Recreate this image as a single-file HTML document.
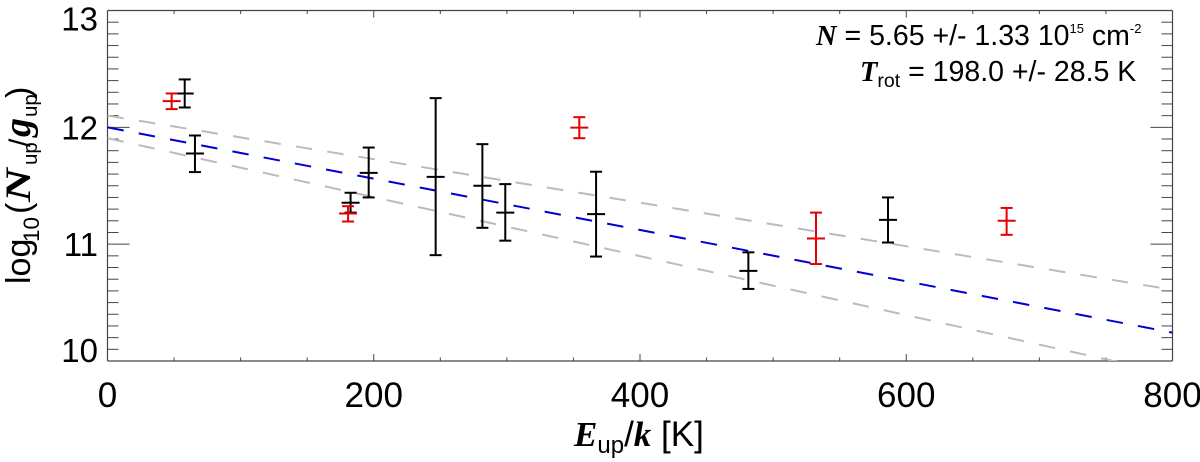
<!DOCTYPE html>
<html>
<head>
<meta charset="utf-8">
<title>Rotational diagram</title>
<style>
html,body{margin:0;padding:0;background:#fff;width:1200px;height:462px;overflow:hidden}
svg{display:block}
text{font-family:"Liberation Sans",sans-serif;fill:#000}
.sym{font-family:"Liberation Serif",serif;font-weight:bold;font-style:italic}
</style>
</head>
<body>
<svg id="chart" xmlns="http://www.w3.org/2000/svg" width="1200" height="462" viewBox="0 0 1200 462">
  <rect x="0" y="0" width="1200" height="462" fill="#fff"/>
  <defs><clipPath id="plot-clip"><rect x="107.5" y="10.5" width="1065" height="350.5"/></clipPath></defs>
  <g id="ticks"></g>
  <g id="lines" clip-path="url(#plot-clip)"></g>
  <g id="points"></g>
  <g id="labels"></g>

  <g transform="translate(30,283) rotate(-90)" font-size="34">
    <text x="-1" y="0">log</text>
    <text x="41" y="9" font-size="22.5">10</text>
    <text x="69" y="0">(</text>
    <text class="sym" transform="translate(81,0) scale(1.3,1)" font-size="36">N</text>
    <text x="118" y="7" font-size="20.5">up</text>
    <text x="136" y="0" font-size="30">/</text>
    <text class="sym" x="146" y="0" font-size="38">g</text>
    <text x="166" y="7" font-size="20.5">up</text>
    <text x="185" y="0">)</text>
  </g>

  <text x="574" y="446" font-size="35"><tspan class="sym">E</tspan><tspan font-size="24" dy="7">up</tspan><tspan dy="-7">/</tspan><tspan class="sym">k</tspan> [K]</text>

  <text x="816" y="45" font-size="28.5"><tspan class="sym">N</tspan> = 5.65 +/- 1.33 10<tspan font-size="13" dy="-12">15</tspan><tspan dy="12"> cm</tspan><tspan font-size="13" dy="-12">-2</tspan></text>

  <text x="860" y="81" font-size="28.5"><tspan class="sym">T</tspan><tspan font-size="19.5" dy="6">rot</tspan><tspan dy="-6"> = 198.0 +/- 28.5 K</tspan></text>
</svg>
<script>
// X axis and Y axis ranges and tick labels
const xDomain = [0, 800];
const yDomain = [10, 13];
const xTickLabels = [0, 200, 400, 600, 800];
const yTickLabels = [10, 11, 12, 13];

// Black points: energy, value, upper error bound, lower error bound
const blackE = [58, 65.7, 182.6, 196.2, 246.5, 281.6, 298.8, 367, 481.4, 586.3];
const blackV = [12.29, 11.776, 11.354, 11.61, 11.576, 11.50, 11.27, 11.257, 10.771, 11.208];
const blackHi = [12.41, 11.93, 11.44, 11.827, 12.25, 11.856, 11.514, 11.62, 10.93, 11.40];
const blackLo = [12.17, 11.617, 11.27, 11.40, 10.906, 11.14, 11.03, 10.894, 10.617, 11.014];

// Red points: energy, value, upper error bound, lower error bound
const redE = [48.2, 180.7, 354.4, 532.2, 675.4];
const redV = [12.224, 11.262, 11.998, 11.048, 11.2];
const redHi = [12.29, 11.325, 12.087, 11.27, 11.31];
const redLo = [12.156, 11.194, 11.907, 10.83, 11.08];

// Fit lines evaluated at the two ends of the energy range
const lineE = [0, 800];
const fitV = [12.0, 10.243];
const upperV = [12.10, 10.61];
const lowerV = [11.907, 9.888];

const NS = 'http://www.w3.org/2000/svg';
const PL = 107.5, PR = 1172.5, PT = 10.5, PB = 361;
function xs(v) { return PL + (v - xDomain[0]) / (xDomain[1] - xDomain[0]) * (PR - PL); }
function ys(v) { return PB - (v - yDomain[0]) / (yDomain[1] - yDomain[0]) * (PB - PT); }
function make(tag, attrs, parent) {
  const el = document.createElementNS(NS, tag);
  for (const k in attrs) el.setAttribute(k, attrs[k]);
  parent.appendChild(el);
  return el;
}

const tickG = document.getElementById('ticks');
const AXC = '#444';
function axisLine(x1, y1, x2, y2, w, name) {
  const l = make('line', { x1: x1, y1: y1, x2: x2, y2: y2, stroke: AXC, 'stroke-width': w }, tickG);
  
  
}
axisLine(PL, PT, PR, PT, 1.2, 'top-axis');
axisLine(PL, PB, PR, PB, 1.2, 'bottom-axis');
axisLine(PL, PT, PL, PB, 1.2, 'left-axis');
axisLine(PR, PT, PR, PB, 1.2, 'right-axis');

for (let k = xDomain[0] + 50; k < xDomain[1]; k += 50) {
  const len = k % 200 === 0 ? 7 : 3.5;
  axisLine(xs(k), PT, xs(k), PT + len, 1, 'x-tick-top');
  axisLine(xs(k), PB, xs(k), PB - len, 1, 'x-tick-bottom');
}
for (let i = 1; i < (yDomain[1] - yDomain[0]) * 10; i++) {
  const v = yDomain[0] + i / 10;
  const len = i % 10 === 0 ? 22 : 11;
  axisLine(PL, ys(v), PL + len, ys(v), 1, 'y-tick-left');
  axisLine(PR, ys(v), PR - len, ys(v), 1, 'y-tick-right');
}

const labelG = document.getElementById('labels');
xTickLabels.forEach(function (v) {
  const t = make('text', { x: xs(v), y: 407, 'font-size': 35, 'text-anchor': 'middle' }, labelG);
  
  
  t.textContent = v;
});
yTickLabels.forEach(function (v) {
  const off = v === yDomain[1] ? 20 : (v === yDomain[0] ? 1 : 12);
  const t = make('text', { x: 98, y: ys(v) + off, 'font-size': 33, 'text-anchor': 'end' }, labelG);
  
  
  t.textContent = v;
});

const lineG = document.getElementById('lines');
function fitLine(vals, color, name) {
  const l = make('line', {
    x1: xs(lineE[0]), y1: ys(vals[0]), x2: xs(lineE[1]), y2: ys(vals[1]),
    stroke: color, 'stroke-width': 2, 'stroke-dasharray': '16.5 15.3'
  }, lineG);
  
  
}
fitLine(upperV, '#bbbbbb', 'upper-bound-line');
fitLine(lowerV, '#bbbbbb', 'lower-bound-line');
fitLine(fitV, '#0000d0', 'best-fit-line');

const pointG = document.getElementById('points');
function drawPoints(es, vs, hi, lo, color, name) {
  es.forEach(function (e, i) {
    const g = make('g', { stroke: color, 'stroke-width': 2, fill: 'none' }, pointG);
    
    
    const x = xs(e);
    make('line', { x1: x, y1: ys(hi[i]), x2: x, y2: ys(lo[i]) }, g);
    make('line', { x1: x - 6, y1: ys(hi[i]), x2: x + 6, y2: ys(hi[i]) }, g);
    make('line', { x1: x - 6, y1: ys(lo[i]), x2: x + 6, y2: ys(lo[i]) }, g);
    make('line', { x1: x - 9, y1: ys(vs[i]), x2: x + 9, y2: ys(vs[i]) }, g);
  });
}
drawPoints(blackE, blackV, blackHi, blackLo, '#000000', 'black-data-point');
drawPoints(redE, redV, redHi, redLo, '#e60000', 'red-data-point');
</script>
</body>
</html>
